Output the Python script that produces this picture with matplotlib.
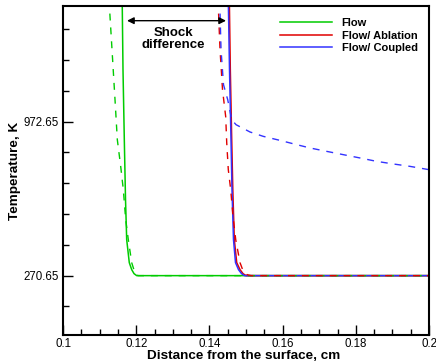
import numpy as np
import matplotlib.pyplot as plt
from matplotlib.ticker import MultipleLocator, FixedLocator, FuncFormatter

plt.rcParams['font.family'] = ['Liberation Sans', 'DejaVu Sans']

# translational temperature (solid) and vibrational temperature (dashed)
flow_x = [0.11617, 0.11639, 0.11675, 0.11708, 0.11740, 0.11811, 0.11877, 0.11940, 0.12014, 0.2]
flow_T = [1528.7, 1209.6, 890.5, 617.1, 434.7, 329.9, 298.0, 279.8, 270.65, 270.65]
flow_xv = [0.11257, 0.11339, 0.11421, 0.11484, 0.11577, 0.11648, 0.11713, 0.11784, 0.11877, 0.11954, 0.12049, 0.2]
flow_Tv = [1528.7, 1300.8, 1072.9, 890.5, 767.5, 662.6, 525.9, 434.7, 329.9, 288.9, 270.65, 270.65]

abl_x = [0.14544, 0.14571, 0.14609, 0.14639, 0.14680, 0.14746, 0.14836, 0.14918, 0.15000, 0.2]
abl_T = [1528.7, 1209.6, 890.5, 662.6, 434.7, 329.9, 298.0, 279.8, 270.65, 270.65]
abl_xv = [0.14235, 0.14290, 0.14358, 0.14445, 0.14473, 0.14516, 0.14582, 0.14645, 0.14719,
          0.14836, 0.14918, 0.15027, 0.15137, 0.2]
abl_Tv = [1528.7, 1300.8, 1118.4, 995.4, 876.9, 753.8, 662.6, 539.6, 434.7,
          329.9, 293.4, 275.2, 270.65, 270.65]

cpl_x = [0.14516, 0.14549, 0.14590, 0.14617, 0.14658, 0.14713, 0.14795, 0.14877, 0.14959, 0.2]
cpl_T = [1528.7, 1209.6, 890.5, 662.6, 434.7, 329.9, 298.0, 279.8, 270.65, 270.65]
cpl_xv = [0.14281, 0.14317, 0.14385, 0.14500, 0.14609, 0.14727, 0.15109, 0.15473, 0.15929,
          0.16385, 0.16749, 0.17205, 0.17658, 0.18115, 0.18571, 0.19025, 0.19481, 0.2]
cpl_Tv = [1528.7, 1300.8, 1141.2, 1072.9, 981.7, 958.9, 925.6, 905.6, 887.3,
          867.8, 852.7, 837.2, 822.2, 807.1, 791.6, 779.8, 768.8, 753.8]

green = '#00cc00'
red = '#e00000'
blue = '#3333ff'

fig = plt.figure(figsize=(4.36, 3.61), dpi=100)
ax = fig.add_axes([0.1445, 0.072, 0.8395, 0.9114])

ax.plot(flow_x, flow_T, color=green, lw=1.1, label='Flow')
ax.plot(abl_x, abl_T, color=red, lw=1.1, label='Flow/ Ablation')
ax.plot(cpl_x, cpl_T, color=blue, lw=1.1, label='Flow/ Coupled')
ax.plot(flow_xv, flow_Tv, color=green, lw=1.0, dashes=(5, 5))
ax.plot(abl_xv, abl_Tv, color=red, lw=1.0, dashes=(5, 5))
ax.plot(cpl_xv, cpl_Tv, color=blue, lw=1.0, dashes=(5, 5))

ax.set_xlim(0.1, 0.2)
ax.set_ylim(0, 1500)
ax.xaxis.set_major_locator(MultipleLocator(0.02))
ax.xaxis.set_minor_locator(MultipleLocator(0.005))
ax.xaxis.set_major_formatter(FuncFormatter(lambda v, p: '%g' % round(v, 3)))
ax.yaxis.set_major_locator(FixedLocator([270.65, 972.65]))
ax.yaxis.set_minor_locator(FixedLocator([130.25 + 140.4 * k for k in range(10)]))
ax.yaxis.set_major_formatter(FuncFormatter(lambda v, p: '%.2f' % v))

ax.tick_params(which='both', direction='in', top=False, right=False, labelsize=8.3, width=1.0)
ax.tick_params(which='major', length=7)
ax.tick_params(which='minor', length=4.5)
ax.tick_params(axis='x', which='major', pad=2.5)
ax.tick_params(axis='y', which='major', pad=3)
for s in ax.spines.values():
    s.set_linewidth(1.5)

# x label sits tight under the tick labels
fig.text(0.5585, 0.006, 'Distance from the surface, cm', ha='center', va='baseline',
         fontsize=9.7, fontweight='bold')
ax.set_ylabel('Temperature, K', fontsize=9.7, fontweight='bold', labelpad=2)

ax.annotate('', xy=(0.11749, 1433), xytext=(0.14454, 1433),
            arrowprops=dict(arrowstyle='<|-|>', color='black', lw=1.0,
                            mutation_scale=10, shrinkA=0, shrinkB=0))
ax.text(0.13005, 1348, 'Shock\ndifference', ha='center', va='center',
        fontsize=9.5, fontweight='bold', linespacing=1.0)

ax.legend(loc='upper right', bbox_to_anchor=(0.99, 0.986), frameon=False,
          prop={'weight': 'bold', 'size': 8}, handlelength=4.6, handletextpad=0.9,
          labelspacing=0.2, borderaxespad=0.3)

fig.savefig('out.png', dpi=100)
